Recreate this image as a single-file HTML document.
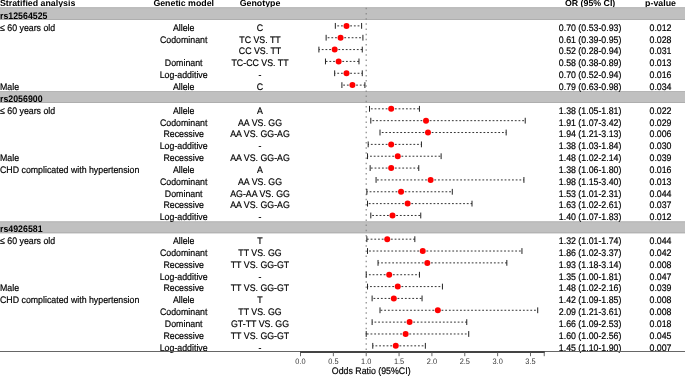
<!DOCTYPE html>
<html><head><meta charset="utf-8"><style>
html,body{margin:0;padding:0;background:#fff;}
body{width:685px;height:376px;overflow:hidden;}
svg{display:block;font-family:"Liberation Sans",sans-serif;will-change:transform;text-rendering:geometricPrecision;}
</style></head><body>
<svg width="685" height="376" viewBox="0 0 685 376">
<rect width="685" height="376" fill="#fff"/>
<text transform="translate(0.00,6.30) scale(1,1.0)" text-anchor="start" font-size="8.8" font-weight="bold" fill="#000">Stratified analysis</text>
<text transform="translate(183.70,6.30) scale(1,1.0)" text-anchor="middle" font-size="8.8" font-weight="bold" fill="#000">Genetic model</text>
<text transform="translate(260.00,6.30) scale(1,1.0)" text-anchor="middle" font-size="8.8" font-weight="bold" fill="#000">Genotype</text>
<text transform="translate(590.10,6.30) scale(1,1.0)" text-anchor="middle" font-size="8.8" font-weight="bold" fill="#000">OR (95% CI)</text>
<text transform="translate(660.50,6.30) scale(1,1.0)" text-anchor="middle" font-size="8.8" font-weight="bold" fill="#000">p-value</text>
<rect x="0" y="7.30" width="685" height="12.65" fill="#c0c0c0"/>
<rect x="0" y="7.30" width="685" height="0.9" fill="#b4b4b4"/>
<rect x="0" y="19.05" width="685" height="0.9" fill="#acacac"/>
<rect x="0" y="91.05" width="685" height="11.85" fill="#c0c0c0"/>
<rect x="0" y="91.05" width="685" height="0.9" fill="#b4b4b4"/>
<rect x="0" y="102.00" width="685" height="0.9" fill="#acacac"/>
<rect x="0" y="221.40" width="685" height="11.85" fill="#c0c0c0"/>
<rect x="0" y="221.40" width="685" height="0.9" fill="#b4b4b4"/>
<rect x="0" y="232.35" width="685" height="0.9" fill="#acacac"/>
<line x1="366.21" y1="7.87" x2="366.21" y2="351.75" stroke="#888" stroke-width="1.2" stroke-dasharray="1.5 3.66"/>
<text transform="translate(0.00,18.85) scale(1,1.08)" text-anchor="start" font-size="8.8" font-weight="bold" fill="#000">rs12564525</text>
<text transform="translate(0.00,30.70) scale(1,1.08)" text-anchor="start" font-size="8.8" fill="#000" stroke="#000" stroke-width="0.18">≤ 60 years old</text>
<text transform="translate(183.70,30.70) scale(1,1.08)" text-anchor="middle" font-size="8.8" fill="#000" stroke="#000" stroke-width="0.18">Allele</text>
<text transform="translate(260.00,30.70) scale(1,1.08)" text-anchor="middle" font-size="8.8" fill="#000" stroke="#000" stroke-width="0.18">C</text>
<text transform="translate(590.10,30.70) scale(1,1.08)" text-anchor="middle" font-size="8.8" fill="#000" stroke="#000" stroke-width="0.18">0.70 (0.53-0.93)</text>
<text transform="translate(660.50,30.70) scale(1,1.08)" text-anchor="middle" font-size="8.8" fill="#000" stroke="#000" stroke-width="0.18">0.012</text>
<line x1="346.50" y1="25.88" x2="335.33" y2="25.88" stroke="#333" stroke-width="1" stroke-dasharray="1.8 1.9"/>
<line x1="346.50" y1="25.88" x2="361.61" y2="25.88" stroke="#333" stroke-width="1" stroke-dasharray="1.8 1.9"/>
<line x1="335.33" y1="22.98" x2="335.33" y2="28.77" stroke="#222" stroke-width="1.0"/>
<line x1="361.61" y1="22.98" x2="361.61" y2="28.77" stroke="#222" stroke-width="1.0"/>
<circle cx="346.50" cy="25.88" r="3.0" fill="#ff0000"/>
<text transform="translate(183.70,42.55) scale(1,1.08)" text-anchor="middle" font-size="8.8" fill="#000" stroke="#000" stroke-width="0.18">Codominant</text>
<text transform="translate(260.00,42.55) scale(1,1.08)" text-anchor="middle" font-size="8.8" fill="#000" stroke="#000" stroke-width="0.18">TC VS. TT</text>
<text transform="translate(590.10,42.55) scale(1,1.08)" text-anchor="middle" font-size="8.8" fill="#000" stroke="#000" stroke-width="0.18">0.61 (0.39-0.95)</text>
<text transform="translate(660.50,42.55) scale(1,1.08)" text-anchor="middle" font-size="8.8" fill="#000" stroke="#000" stroke-width="0.18">0.028</text>
<line x1="340.58" y1="37.72" x2="326.13" y2="37.72" stroke="#333" stroke-width="1" stroke-dasharray="1.8 1.9"/>
<line x1="340.58" y1="37.72" x2="362.92" y2="37.72" stroke="#333" stroke-width="1" stroke-dasharray="1.8 1.9"/>
<line x1="326.13" y1="34.82" x2="326.13" y2="40.62" stroke="#222" stroke-width="1.0"/>
<line x1="362.92" y1="34.82" x2="362.92" y2="40.62" stroke="#222" stroke-width="1.0"/>
<circle cx="340.58" cy="37.72" r="3.0" fill="#ff0000"/>
<text transform="translate(260.00,54.40) scale(1,1.08)" text-anchor="middle" font-size="8.8" fill="#000" stroke="#000" stroke-width="0.18">CC VS. TT</text>
<text transform="translate(590.10,54.40) scale(1,1.08)" text-anchor="middle" font-size="8.8" fill="#000" stroke="#000" stroke-width="0.18">0.52 (0.28-0.94)</text>
<text transform="translate(660.50,54.40) scale(1,1.08)" text-anchor="middle" font-size="8.8" fill="#000" stroke="#000" stroke-width="0.18">0.031</text>
<line x1="334.67" y1="49.57" x2="318.90" y2="49.57" stroke="#333" stroke-width="1" stroke-dasharray="1.8 1.9"/>
<line x1="334.67" y1="49.57" x2="362.27" y2="49.57" stroke="#333" stroke-width="1" stroke-dasharray="1.8 1.9"/>
<line x1="318.90" y1="46.67" x2="318.90" y2="52.47" stroke="#222" stroke-width="1.0"/>
<line x1="362.27" y1="46.67" x2="362.27" y2="52.47" stroke="#222" stroke-width="1.0"/>
<circle cx="334.67" cy="49.57" r="3.0" fill="#ff0000"/>
<text transform="translate(183.70,66.25) scale(1,1.08)" text-anchor="middle" font-size="8.8" fill="#000" stroke="#000" stroke-width="0.18">Dominant</text>
<text transform="translate(260.00,66.25) scale(1,1.08)" text-anchor="middle" font-size="8.8" fill="#000" stroke="#000" stroke-width="0.18">TC-CC VS. TT</text>
<text transform="translate(590.10,66.25) scale(1,1.08)" text-anchor="middle" font-size="8.8" fill="#000" stroke="#000" stroke-width="0.18">0.58 (0.38-0.89)</text>
<text transform="translate(660.50,66.25) scale(1,1.08)" text-anchor="middle" font-size="8.8" fill="#000" stroke="#000" stroke-width="0.18">0.013</text>
<line x1="338.61" y1="61.42" x2="325.47" y2="61.42" stroke="#333" stroke-width="1" stroke-dasharray="1.8 1.9"/>
<line x1="338.61" y1="61.42" x2="358.98" y2="61.42" stroke="#333" stroke-width="1" stroke-dasharray="1.8 1.9"/>
<line x1="325.47" y1="58.52" x2="325.47" y2="64.33" stroke="#222" stroke-width="1.0"/>
<line x1="358.98" y1="58.52" x2="358.98" y2="64.33" stroke="#222" stroke-width="1.0"/>
<circle cx="338.61" cy="61.42" r="3.0" fill="#ff0000"/>
<text transform="translate(183.70,78.10) scale(1,1.08)" text-anchor="middle" font-size="8.8" fill="#000" stroke="#000" stroke-width="0.18">Log-additive</text>
<text transform="translate(260.00,78.10) scale(1,1.08)" text-anchor="middle" font-size="8.8" fill="#000" stroke="#000" stroke-width="0.18">-</text>
<text transform="translate(590.10,78.10) scale(1,1.08)" text-anchor="middle" font-size="8.8" fill="#000" stroke="#000" stroke-width="0.18">0.70 (0.52-0.94)</text>
<text transform="translate(660.50,78.10) scale(1,1.08)" text-anchor="middle" font-size="8.8" fill="#000" stroke="#000" stroke-width="0.18">0.016</text>
<line x1="346.50" y1="73.27" x2="334.67" y2="73.27" stroke="#333" stroke-width="1" stroke-dasharray="1.8 1.9"/>
<line x1="346.50" y1="73.27" x2="362.27" y2="73.27" stroke="#333" stroke-width="1" stroke-dasharray="1.8 1.9"/>
<line x1="334.67" y1="70.37" x2="334.67" y2="76.17" stroke="#222" stroke-width="1.0"/>
<line x1="362.27" y1="70.37" x2="362.27" y2="76.17" stroke="#222" stroke-width="1.0"/>
<circle cx="346.50" cy="73.27" r="3.0" fill="#ff0000"/>
<text transform="translate(0.00,89.95) scale(1,1.08)" text-anchor="start" font-size="8.8" fill="#000" stroke="#000" stroke-width="0.18">Male</text>
<text transform="translate(183.70,89.95) scale(1,1.08)" text-anchor="middle" font-size="8.8" fill="#000" stroke="#000" stroke-width="0.18">Allele</text>
<text transform="translate(260.00,89.95) scale(1,1.08)" text-anchor="middle" font-size="8.8" fill="#000" stroke="#000" stroke-width="0.18">C</text>
<text transform="translate(590.10,89.95) scale(1,1.08)" text-anchor="middle" font-size="8.8" fill="#000" stroke="#000" stroke-width="0.18">0.79 (0.63-0.98)</text>
<text transform="translate(660.50,89.95) scale(1,1.08)" text-anchor="middle" font-size="8.8" fill="#000" stroke="#000" stroke-width="0.18">0.034</text>
<line x1="352.41" y1="85.12" x2="341.90" y2="85.12" stroke="#333" stroke-width="1" stroke-dasharray="1.8 1.9"/>
<line x1="352.41" y1="85.12" x2="364.90" y2="85.12" stroke="#333" stroke-width="1" stroke-dasharray="1.8 1.9"/>
<line x1="341.90" y1="82.22" x2="341.90" y2="88.02" stroke="#222" stroke-width="1.0"/>
<line x1="364.90" y1="82.22" x2="364.90" y2="88.02" stroke="#222" stroke-width="1.0"/>
<circle cx="352.41" cy="85.12" r="3.0" fill="#ff0000"/>
<text transform="translate(0.00,101.80) scale(1,1.08)" text-anchor="start" font-size="8.8" font-weight="bold" fill="#000">rs2056900</text>
<text transform="translate(0.00,113.65) scale(1,1.08)" text-anchor="start" font-size="8.8" fill="#000" stroke="#000" stroke-width="0.18">≤ 60 years old</text>
<text transform="translate(183.70,113.65) scale(1,1.08)" text-anchor="middle" font-size="8.8" fill="#000" stroke="#000" stroke-width="0.18">Allele</text>
<text transform="translate(260.00,113.65) scale(1,1.08)" text-anchor="middle" font-size="8.8" fill="#000" stroke="#000" stroke-width="0.18">A</text>
<text transform="translate(590.10,113.65) scale(1,1.08)" text-anchor="middle" font-size="8.8" fill="#000" stroke="#000" stroke-width="0.18">1.38 (1.05-1.81)</text>
<text transform="translate(660.50,113.65) scale(1,1.08)" text-anchor="middle" font-size="8.8" fill="#000" stroke="#000" stroke-width="0.18">0.022</text>
<line x1="391.18" y1="108.82" x2="369.50" y2="108.82" stroke="#333" stroke-width="1" stroke-dasharray="1.8 1.9"/>
<line x1="391.18" y1="108.82" x2="419.44" y2="108.82" stroke="#333" stroke-width="1" stroke-dasharray="1.8 1.9"/>
<line x1="369.50" y1="105.92" x2="369.50" y2="111.72" stroke="#222" stroke-width="1.0"/>
<line x1="419.44" y1="105.92" x2="419.44" y2="111.72" stroke="#222" stroke-width="1.0"/>
<circle cx="391.18" cy="108.82" r="3.0" fill="#ff0000"/>
<text transform="translate(183.70,125.50) scale(1,1.08)" text-anchor="middle" font-size="8.8" fill="#000" stroke="#000" stroke-width="0.18">Codominant</text>
<text transform="translate(260.00,125.50) scale(1,1.08)" text-anchor="middle" font-size="8.8" fill="#000" stroke="#000" stroke-width="0.18">AA VS. GG</text>
<text transform="translate(590.10,125.50) scale(1,1.08)" text-anchor="middle" font-size="8.8" fill="#000" stroke="#000" stroke-width="0.18">1.91 (1.07-3.42)</text>
<text transform="translate(660.50,125.50) scale(1,1.08)" text-anchor="middle" font-size="8.8" fill="#000" stroke="#000" stroke-width="0.18">0.029</text>
<line x1="426.01" y1="120.67" x2="370.81" y2="120.67" stroke="#333" stroke-width="1" stroke-dasharray="1.8 1.9"/>
<line x1="426.01" y1="120.67" x2="525.23" y2="120.67" stroke="#333" stroke-width="1" stroke-dasharray="1.8 1.9"/>
<line x1="370.81" y1="117.77" x2="370.81" y2="123.57" stroke="#222" stroke-width="1.0"/>
<line x1="525.23" y1="117.77" x2="525.23" y2="123.57" stroke="#222" stroke-width="1.0"/>
<circle cx="426.01" cy="120.67" r="3.0" fill="#ff0000"/>
<text transform="translate(183.70,137.35) scale(1,1.08)" text-anchor="middle" font-size="8.8" fill="#000" stroke="#000" stroke-width="0.18">Recessive</text>
<text transform="translate(260.00,137.35) scale(1,1.08)" text-anchor="middle" font-size="8.8" fill="#000" stroke="#000" stroke-width="0.18">AA VS. GG-AG</text>
<text transform="translate(590.10,137.35) scale(1,1.08)" text-anchor="middle" font-size="8.8" fill="#000" stroke="#000" stroke-width="0.18">1.94 (1.21-3.13)</text>
<text transform="translate(660.50,137.35) scale(1,1.08)" text-anchor="middle" font-size="8.8" fill="#000" stroke="#000" stroke-width="0.18">0.006</text>
<line x1="427.98" y1="132.53" x2="380.01" y2="132.53" stroke="#333" stroke-width="1" stroke-dasharray="1.8 1.9"/>
<line x1="427.98" y1="132.53" x2="506.17" y2="132.53" stroke="#333" stroke-width="1" stroke-dasharray="1.8 1.9"/>
<line x1="380.01" y1="129.62" x2="380.01" y2="135.43" stroke="#222" stroke-width="1.0"/>
<line x1="506.17" y1="129.62" x2="506.17" y2="135.43" stroke="#222" stroke-width="1.0"/>
<circle cx="427.98" cy="132.53" r="3.0" fill="#ff0000"/>
<text transform="translate(183.70,149.20) scale(1,1.08)" text-anchor="middle" font-size="8.8" fill="#000" stroke="#000" stroke-width="0.18">Log-additive</text>
<text transform="translate(260.00,149.20) scale(1,1.08)" text-anchor="middle" font-size="8.8" fill="#000" stroke="#000" stroke-width="0.18">-</text>
<text transform="translate(590.10,149.20) scale(1,1.08)" text-anchor="middle" font-size="8.8" fill="#000" stroke="#000" stroke-width="0.18">1.38 (1.03-1.84)</text>
<text transform="translate(660.50,149.20) scale(1,1.08)" text-anchor="middle" font-size="8.8" fill="#000" stroke="#000" stroke-width="0.18">0.030</text>
<line x1="391.18" y1="144.38" x2="368.18" y2="144.38" stroke="#333" stroke-width="1" stroke-dasharray="1.8 1.9"/>
<line x1="391.18" y1="144.38" x2="421.41" y2="144.38" stroke="#333" stroke-width="1" stroke-dasharray="1.8 1.9"/>
<line x1="368.18" y1="141.47" x2="368.18" y2="147.28" stroke="#222" stroke-width="1.0"/>
<line x1="421.41" y1="141.47" x2="421.41" y2="147.28" stroke="#222" stroke-width="1.0"/>
<circle cx="391.18" cy="144.38" r="3.0" fill="#ff0000"/>
<text transform="translate(0.00,161.05) scale(1,1.08)" text-anchor="start" font-size="8.8" fill="#000" stroke="#000" stroke-width="0.18">Male</text>
<text transform="translate(183.70,161.05) scale(1,1.08)" text-anchor="middle" font-size="8.8" fill="#000" stroke="#000" stroke-width="0.18">Recessive</text>
<text transform="translate(260.00,161.05) scale(1,1.08)" text-anchor="middle" font-size="8.8" fill="#000" stroke="#000" stroke-width="0.18">AA VS. GG-AG</text>
<text transform="translate(590.10,161.05) scale(1,1.08)" text-anchor="middle" font-size="8.8" fill="#000" stroke="#000" stroke-width="0.18">1.48 (1.02-2.14)</text>
<text transform="translate(660.50,161.05) scale(1,1.08)" text-anchor="middle" font-size="8.8" fill="#000" stroke="#000" stroke-width="0.18">0.039</text>
<line x1="397.75" y1="156.22" x2="367.52" y2="156.22" stroke="#333" stroke-width="1" stroke-dasharray="1.8 1.9"/>
<line x1="397.75" y1="156.22" x2="441.12" y2="156.22" stroke="#333" stroke-width="1" stroke-dasharray="1.8 1.9"/>
<line x1="367.52" y1="153.32" x2="367.52" y2="159.12" stroke="#222" stroke-width="1.0"/>
<line x1="441.12" y1="153.32" x2="441.12" y2="159.12" stroke="#222" stroke-width="1.0"/>
<circle cx="397.75" cy="156.22" r="3.0" fill="#ff0000"/>
<text transform="translate(0.00,172.90) scale(1,1.08)" text-anchor="start" font-size="8.8" fill="#000" stroke="#000" stroke-width="0.18">CHD complicated with hypertension</text>
<text transform="translate(183.70,172.90) scale(1,1.08)" text-anchor="middle" font-size="8.8" fill="#000" stroke="#000" stroke-width="0.18">Allele</text>
<text transform="translate(260.00,172.90) scale(1,1.08)" text-anchor="middle" font-size="8.8" fill="#000" stroke="#000" stroke-width="0.18">A</text>
<text transform="translate(590.10,172.90) scale(1,1.08)" text-anchor="middle" font-size="8.8" fill="#000" stroke="#000" stroke-width="0.18">1.38 (1.06-1.80)</text>
<text transform="translate(660.50,172.90) scale(1,1.08)" text-anchor="middle" font-size="8.8" fill="#000" stroke="#000" stroke-width="0.18">0.016</text>
<line x1="391.18" y1="168.07" x2="370.15" y2="168.07" stroke="#333" stroke-width="1" stroke-dasharray="1.8 1.9"/>
<line x1="391.18" y1="168.07" x2="418.78" y2="168.07" stroke="#333" stroke-width="1" stroke-dasharray="1.8 1.9"/>
<line x1="370.15" y1="165.17" x2="370.15" y2="170.97" stroke="#222" stroke-width="1.0"/>
<line x1="418.78" y1="165.17" x2="418.78" y2="170.97" stroke="#222" stroke-width="1.0"/>
<circle cx="391.18" cy="168.07" r="3.0" fill="#ff0000"/>
<text transform="translate(183.70,184.75) scale(1,1.08)" text-anchor="middle" font-size="8.8" fill="#000" stroke="#000" stroke-width="0.18">Codominant</text>
<text transform="translate(260.00,184.75) scale(1,1.08)" text-anchor="middle" font-size="8.8" fill="#000" stroke="#000" stroke-width="0.18">AA VS. GG</text>
<text transform="translate(590.10,184.75) scale(1,1.08)" text-anchor="middle" font-size="8.8" fill="#000" stroke="#000" stroke-width="0.18">1.98 (1.15-3.40)</text>
<text transform="translate(660.50,184.75) scale(1,1.08)" text-anchor="middle" font-size="8.8" fill="#000" stroke="#000" stroke-width="0.18">0.013</text>
<line x1="430.61" y1="179.93" x2="376.07" y2="179.93" stroke="#333" stroke-width="1" stroke-dasharray="1.8 1.9"/>
<line x1="430.61" y1="179.93" x2="523.91" y2="179.93" stroke="#333" stroke-width="1" stroke-dasharray="1.8 1.9"/>
<line x1="376.07" y1="177.03" x2="376.07" y2="182.83" stroke="#222" stroke-width="1.0"/>
<line x1="523.91" y1="177.03" x2="523.91" y2="182.83" stroke="#222" stroke-width="1.0"/>
<circle cx="430.61" cy="179.93" r="3.0" fill="#ff0000"/>
<text transform="translate(183.70,196.60) scale(1,1.08)" text-anchor="middle" font-size="8.8" fill="#000" stroke="#000" stroke-width="0.18">Dominant</text>
<text transform="translate(260.00,196.60) scale(1,1.08)" text-anchor="middle" font-size="8.8" fill="#000" stroke="#000" stroke-width="0.18">AG-AA VS. GG</text>
<text transform="translate(590.10,196.60) scale(1,1.08)" text-anchor="middle" font-size="8.8" fill="#000" stroke="#000" stroke-width="0.18">1.53 (1.01-2.31)</text>
<text transform="translate(660.50,196.60) scale(1,1.08)" text-anchor="middle" font-size="8.8" fill="#000" stroke="#000" stroke-width="0.18">0.044</text>
<line x1="401.04" y1="191.78" x2="366.87" y2="191.78" stroke="#333" stroke-width="1" stroke-dasharray="1.8 1.9"/>
<line x1="401.04" y1="191.78" x2="452.29" y2="191.78" stroke="#333" stroke-width="1" stroke-dasharray="1.8 1.9"/>
<line x1="366.87" y1="188.88" x2="366.87" y2="194.68" stroke="#222" stroke-width="1.0"/>
<line x1="452.29" y1="188.88" x2="452.29" y2="194.68" stroke="#222" stroke-width="1.0"/>
<circle cx="401.04" cy="191.78" r="3.0" fill="#ff0000"/>
<text transform="translate(183.70,208.45) scale(1,1.08)" text-anchor="middle" font-size="8.8" fill="#000" stroke="#000" stroke-width="0.18">Recessive</text>
<text transform="translate(260.00,208.45) scale(1,1.08)" text-anchor="middle" font-size="8.8" fill="#000" stroke="#000" stroke-width="0.18">AA VS. GG-AG</text>
<text transform="translate(590.10,208.45) scale(1,1.08)" text-anchor="middle" font-size="8.8" fill="#000" stroke="#000" stroke-width="0.18">1.63 (1.02-2.61)</text>
<text transform="translate(660.50,208.45) scale(1,1.08)" text-anchor="middle" font-size="8.8" fill="#000" stroke="#000" stroke-width="0.18">0.037</text>
<line x1="407.61" y1="203.62" x2="367.52" y2="203.62" stroke="#333" stroke-width="1" stroke-dasharray="1.8 1.9"/>
<line x1="407.61" y1="203.62" x2="472.00" y2="203.62" stroke="#333" stroke-width="1" stroke-dasharray="1.8 1.9"/>
<line x1="367.52" y1="200.72" x2="367.52" y2="206.53" stroke="#222" stroke-width="1.0"/>
<line x1="472.00" y1="200.72" x2="472.00" y2="206.53" stroke="#222" stroke-width="1.0"/>
<circle cx="407.61" cy="203.62" r="3.0" fill="#ff0000"/>
<text transform="translate(183.70,220.30) scale(1,1.08)" text-anchor="middle" font-size="8.8" fill="#000" stroke="#000" stroke-width="0.18">Log-additive</text>
<text transform="translate(260.00,220.30) scale(1,1.08)" text-anchor="middle" font-size="8.8" fill="#000" stroke="#000" stroke-width="0.18">-</text>
<text transform="translate(590.10,220.30) scale(1,1.08)" text-anchor="middle" font-size="8.8" fill="#000" stroke="#000" stroke-width="0.18">1.40 (1.07-1.83)</text>
<text transform="translate(660.50,220.30) scale(1,1.08)" text-anchor="middle" font-size="8.8" fill="#000" stroke="#000" stroke-width="0.18">0.012</text>
<line x1="392.49" y1="215.47" x2="370.81" y2="215.47" stroke="#333" stroke-width="1" stroke-dasharray="1.8 1.9"/>
<line x1="392.49" y1="215.47" x2="420.75" y2="215.47" stroke="#333" stroke-width="1" stroke-dasharray="1.8 1.9"/>
<line x1="370.81" y1="212.57" x2="370.81" y2="218.38" stroke="#222" stroke-width="1.0"/>
<line x1="420.75" y1="212.57" x2="420.75" y2="218.38" stroke="#222" stroke-width="1.0"/>
<circle cx="392.49" cy="215.47" r="3.0" fill="#ff0000"/>
<text transform="translate(0.00,232.15) scale(1,1.08)" text-anchor="start" font-size="8.8" font-weight="bold" fill="#000">rs4926581</text>
<text transform="translate(0.00,244.00) scale(1,1.08)" text-anchor="start" font-size="8.8" fill="#000" stroke="#000" stroke-width="0.18">≤ 60 years old</text>
<text transform="translate(183.70,244.00) scale(1,1.08)" text-anchor="middle" font-size="8.8" fill="#000" stroke="#000" stroke-width="0.18">Allele</text>
<text transform="translate(260.00,244.00) scale(1,1.08)" text-anchor="middle" font-size="8.8" fill="#000" stroke="#000" stroke-width="0.18">T</text>
<text transform="translate(590.10,244.00) scale(1,1.08)" text-anchor="middle" font-size="8.8" fill="#000" stroke="#000" stroke-width="0.18">1.32 (1.01-1.74)</text>
<text transform="translate(660.50,244.00) scale(1,1.08)" text-anchor="middle" font-size="8.8" fill="#000" stroke="#000" stroke-width="0.18">0.044</text>
<line x1="387.24" y1="239.18" x2="366.87" y2="239.18" stroke="#333" stroke-width="1" stroke-dasharray="1.8 1.9"/>
<line x1="387.24" y1="239.18" x2="414.84" y2="239.18" stroke="#333" stroke-width="1" stroke-dasharray="1.8 1.9"/>
<line x1="366.87" y1="236.28" x2="366.87" y2="242.08" stroke="#222" stroke-width="1.0"/>
<line x1="414.84" y1="236.28" x2="414.84" y2="242.08" stroke="#222" stroke-width="1.0"/>
<circle cx="387.24" cy="239.18" r="3.0" fill="#ff0000"/>
<text transform="translate(183.70,255.85) scale(1,1.08)" text-anchor="middle" font-size="8.8" fill="#000" stroke="#000" stroke-width="0.18">Codominant</text>
<text transform="translate(260.00,255.85) scale(1,1.08)" text-anchor="middle" font-size="8.8" fill="#000" stroke="#000" stroke-width="0.18">TT VS. GG</text>
<text transform="translate(590.10,255.85) scale(1,1.08)" text-anchor="middle" font-size="8.8" fill="#000" stroke="#000" stroke-width="0.18">1.86 (1.02-3.37)</text>
<text transform="translate(660.50,255.85) scale(1,1.08)" text-anchor="middle" font-size="8.8" fill="#000" stroke="#000" stroke-width="0.18">0.042</text>
<line x1="422.72" y1="251.03" x2="367.52" y2="251.03" stroke="#333" stroke-width="1" stroke-dasharray="1.8 1.9"/>
<line x1="422.72" y1="251.03" x2="521.94" y2="251.03" stroke="#333" stroke-width="1" stroke-dasharray="1.8 1.9"/>
<line x1="367.52" y1="248.12" x2="367.52" y2="253.93" stroke="#222" stroke-width="1.0"/>
<line x1="521.94" y1="248.12" x2="521.94" y2="253.93" stroke="#222" stroke-width="1.0"/>
<circle cx="422.72" cy="251.03" r="3.0" fill="#ff0000"/>
<text transform="translate(183.70,267.70) scale(1,1.08)" text-anchor="middle" font-size="8.8" fill="#000" stroke="#000" stroke-width="0.18">Recessive</text>
<text transform="translate(260.00,267.70) scale(1,1.08)" text-anchor="middle" font-size="8.8" fill="#000" stroke="#000" stroke-width="0.18">TT VS. GG-GT</text>
<text transform="translate(590.10,267.70) scale(1,1.08)" text-anchor="middle" font-size="8.8" fill="#000" stroke="#000" stroke-width="0.18">1.93 (1.18-3.14)</text>
<text transform="translate(660.50,267.70) scale(1,1.08)" text-anchor="middle" font-size="8.8" fill="#000" stroke="#000" stroke-width="0.18">0.008</text>
<line x1="427.32" y1="262.88" x2="378.04" y2="262.88" stroke="#333" stroke-width="1" stroke-dasharray="1.8 1.9"/>
<line x1="427.32" y1="262.88" x2="506.83" y2="262.88" stroke="#333" stroke-width="1" stroke-dasharray="1.8 1.9"/>
<line x1="378.04" y1="259.98" x2="378.04" y2="265.77" stroke="#222" stroke-width="1.0"/>
<line x1="506.83" y1="259.98" x2="506.83" y2="265.77" stroke="#222" stroke-width="1.0"/>
<circle cx="427.32" cy="262.88" r="3.0" fill="#ff0000"/>
<text transform="translate(183.70,279.55) scale(1,1.08)" text-anchor="middle" font-size="8.8" fill="#000" stroke="#000" stroke-width="0.18">Log-additive</text>
<text transform="translate(260.00,279.55) scale(1,1.08)" text-anchor="middle" font-size="8.8" fill="#000" stroke="#000" stroke-width="0.18">-</text>
<text transform="translate(590.10,279.55) scale(1,1.08)" text-anchor="middle" font-size="8.8" fill="#000" stroke="#000" stroke-width="0.18">1.35 (1.00-1.81)</text>
<text transform="translate(660.50,279.55) scale(1,1.08)" text-anchor="middle" font-size="8.8" fill="#000" stroke="#000" stroke-width="0.18">0.047</text>
<line x1="389.21" y1="274.73" x2="366.21" y2="274.73" stroke="#333" stroke-width="1" stroke-dasharray="1.8 1.9"/>
<line x1="389.21" y1="274.73" x2="419.44" y2="274.73" stroke="#333" stroke-width="1" stroke-dasharray="1.8 1.9"/>
<line x1="366.21" y1="271.83" x2="366.21" y2="277.62" stroke="#222" stroke-width="1.0"/>
<line x1="419.44" y1="271.83" x2="419.44" y2="277.62" stroke="#222" stroke-width="1.0"/>
<circle cx="389.21" cy="274.73" r="3.0" fill="#ff0000"/>
<text transform="translate(0.00,291.40) scale(1,1.08)" text-anchor="start" font-size="8.8" fill="#000" stroke="#000" stroke-width="0.18">Male</text>
<text transform="translate(183.70,291.40) scale(1,1.08)" text-anchor="middle" font-size="8.8" fill="#000" stroke="#000" stroke-width="0.18">Recessive</text>
<text transform="translate(260.00,291.40) scale(1,1.08)" text-anchor="middle" font-size="8.8" fill="#000" stroke="#000" stroke-width="0.18">TT VS. GG-GT</text>
<text transform="translate(590.10,291.40) scale(1,1.08)" text-anchor="middle" font-size="8.8" fill="#000" stroke="#000" stroke-width="0.18">1.48 (1.02-2.16)</text>
<text transform="translate(660.50,291.40) scale(1,1.08)" text-anchor="middle" font-size="8.8" fill="#000" stroke="#000" stroke-width="0.18">0.039</text>
<line x1="397.75" y1="286.58" x2="367.52" y2="286.58" stroke="#333" stroke-width="1" stroke-dasharray="1.8 1.9"/>
<line x1="397.75" y1="286.58" x2="442.43" y2="286.58" stroke="#333" stroke-width="1" stroke-dasharray="1.8 1.9"/>
<line x1="367.52" y1="283.68" x2="367.52" y2="289.48" stroke="#222" stroke-width="1.0"/>
<line x1="442.43" y1="283.68" x2="442.43" y2="289.48" stroke="#222" stroke-width="1.0"/>
<circle cx="397.75" cy="286.58" r="3.0" fill="#ff0000"/>
<text transform="translate(0.00,303.25) scale(1,1.08)" text-anchor="start" font-size="8.8" fill="#000" stroke="#000" stroke-width="0.18">CHD complicated with hypertension</text>
<text transform="translate(183.70,303.25) scale(1,1.08)" text-anchor="middle" font-size="8.8" fill="#000" stroke="#000" stroke-width="0.18">Allele</text>
<text transform="translate(260.00,303.25) scale(1,1.08)" text-anchor="middle" font-size="8.8" fill="#000" stroke="#000" stroke-width="0.18">T</text>
<text transform="translate(590.10,303.25) scale(1,1.08)" text-anchor="middle" font-size="8.8" fill="#000" stroke="#000" stroke-width="0.18">1.42 (1.09-1.85)</text>
<text transform="translate(660.50,303.25) scale(1,1.08)" text-anchor="middle" font-size="8.8" fill="#000" stroke="#000" stroke-width="0.18">0.008</text>
<line x1="393.81" y1="298.43" x2="372.12" y2="298.43" stroke="#333" stroke-width="1" stroke-dasharray="1.8 1.9"/>
<line x1="393.81" y1="298.43" x2="422.06" y2="298.43" stroke="#333" stroke-width="1" stroke-dasharray="1.8 1.9"/>
<line x1="372.12" y1="295.53" x2="372.12" y2="301.32" stroke="#222" stroke-width="1.0"/>
<line x1="422.06" y1="295.53" x2="422.06" y2="301.32" stroke="#222" stroke-width="1.0"/>
<circle cx="393.81" cy="298.43" r="3.0" fill="#ff0000"/>
<text transform="translate(183.70,315.10) scale(1,1.08)" text-anchor="middle" font-size="8.8" fill="#000" stroke="#000" stroke-width="0.18">Codominant</text>
<text transform="translate(260.00,315.10) scale(1,1.08)" text-anchor="middle" font-size="8.8" fill="#000" stroke="#000" stroke-width="0.18">TT VS. GG</text>
<text transform="translate(590.10,315.10) scale(1,1.08)" text-anchor="middle" font-size="8.8" fill="#000" stroke="#000" stroke-width="0.18">2.09 (1.21-3.61)</text>
<text transform="translate(660.50,315.10) scale(1,1.08)" text-anchor="middle" font-size="8.8" fill="#000" stroke="#000" stroke-width="0.18">0.008</text>
<line x1="437.83" y1="310.28" x2="380.01" y2="310.28" stroke="#333" stroke-width="1" stroke-dasharray="1.8 1.9"/>
<line x1="437.83" y1="310.28" x2="537.71" y2="310.28" stroke="#333" stroke-width="1" stroke-dasharray="1.8 1.9"/>
<line x1="380.01" y1="307.38" x2="380.01" y2="313.18" stroke="#222" stroke-width="1.0"/>
<line x1="537.71" y1="307.38" x2="537.71" y2="313.18" stroke="#222" stroke-width="1.0"/>
<circle cx="437.83" cy="310.28" r="3.0" fill="#ff0000"/>
<text transform="translate(183.70,326.95) scale(1,1.08)" text-anchor="middle" font-size="8.8" fill="#000" stroke="#000" stroke-width="0.18">Dominant</text>
<text transform="translate(260.00,326.95) scale(1,1.08)" text-anchor="middle" font-size="8.8" fill="#000" stroke="#000" stroke-width="0.18">GT-TT VS. GG</text>
<text transform="translate(590.10,326.95) scale(1,1.08)" text-anchor="middle" font-size="8.8" fill="#000" stroke="#000" stroke-width="0.18">1.66 (1.09-2.53)</text>
<text transform="translate(660.50,326.95) scale(1,1.08)" text-anchor="middle" font-size="8.8" fill="#000" stroke="#000" stroke-width="0.18">0.018</text>
<line x1="409.58" y1="322.12" x2="372.12" y2="322.12" stroke="#333" stroke-width="1" stroke-dasharray="1.8 1.9"/>
<line x1="409.58" y1="322.12" x2="466.75" y2="322.12" stroke="#333" stroke-width="1" stroke-dasharray="1.8 1.9"/>
<line x1="372.12" y1="319.23" x2="372.12" y2="325.02" stroke="#222" stroke-width="1.0"/>
<line x1="466.75" y1="319.23" x2="466.75" y2="325.02" stroke="#222" stroke-width="1.0"/>
<circle cx="409.58" cy="322.12" r="3.0" fill="#ff0000"/>
<text transform="translate(183.70,338.80) scale(1,1.08)" text-anchor="middle" font-size="8.8" fill="#000" stroke="#000" stroke-width="0.18">Recessive</text>
<text transform="translate(260.00,338.80) scale(1,1.08)" text-anchor="middle" font-size="8.8" fill="#000" stroke="#000" stroke-width="0.18">TT VS. GG-GT</text>
<text transform="translate(590.10,338.80) scale(1,1.08)" text-anchor="middle" font-size="8.8" fill="#000" stroke="#000" stroke-width="0.18">1.60 (1.00-2.56)</text>
<text transform="translate(660.50,338.80) scale(1,1.08)" text-anchor="middle" font-size="8.8" fill="#000" stroke="#000" stroke-width="0.18">0.045</text>
<line x1="405.64" y1="333.98" x2="366.21" y2="333.98" stroke="#333" stroke-width="1" stroke-dasharray="1.8 1.9"/>
<line x1="405.64" y1="333.98" x2="468.72" y2="333.98" stroke="#333" stroke-width="1" stroke-dasharray="1.8 1.9"/>
<line x1="366.21" y1="331.08" x2="366.21" y2="336.88" stroke="#222" stroke-width="1.0"/>
<line x1="468.72" y1="331.08" x2="468.72" y2="336.88" stroke="#222" stroke-width="1.0"/>
<circle cx="405.64" cy="333.98" r="3.0" fill="#ff0000"/>
<text transform="translate(183.70,350.65) scale(1,1.08)" text-anchor="middle" font-size="8.8" fill="#000" stroke="#000" stroke-width="0.18">Log-additive</text>
<text transform="translate(260.00,350.65) scale(1,1.08)" text-anchor="middle" font-size="8.8" fill="#000" stroke="#000" stroke-width="0.18">-</text>
<text transform="translate(590.10,350.65) scale(1,1.08)" text-anchor="middle" font-size="8.8" fill="#000" stroke="#000" stroke-width="0.18">1.45 (1.10-1.90)</text>
<text transform="translate(660.50,350.65) scale(1,1.08)" text-anchor="middle" font-size="8.8" fill="#000" stroke="#000" stroke-width="0.18">0.007</text>
<line x1="395.78" y1="345.83" x2="372.78" y2="345.83" stroke="#333" stroke-width="1" stroke-dasharray="1.8 1.9"/>
<line x1="395.78" y1="345.83" x2="425.35" y2="345.83" stroke="#333" stroke-width="1" stroke-dasharray="1.8 1.9"/>
<line x1="372.78" y1="342.93" x2="372.78" y2="348.73" stroke="#222" stroke-width="1.0"/>
<line x1="425.35" y1="342.93" x2="425.35" y2="348.73" stroke="#222" stroke-width="1.0"/>
<circle cx="395.78" cy="345.83" r="3.0" fill="#ff0000"/>
<line x1="0" y1="351.5" x2="685" y2="351.5" stroke="#666" stroke-width="1.1"/>
<line x1="300.00" y1="352.0" x2="544.72" y2="352.0" stroke="#444" stroke-width="1.8"/>
<line x1="300.50" y1="352" x2="300.50" y2="356.2" stroke="#555" stroke-width="0.9"/>
<text transform="translate(300.50,363.70) scale(1,1.08)" text-anchor="middle" font-size="7.4" fill="#333">0.0</text>
<line x1="333.36" y1="352" x2="333.36" y2="356.2" stroke="#555" stroke-width="0.9"/>
<text transform="translate(333.36,363.70) scale(1,1.08)" text-anchor="middle" font-size="7.4" fill="#333">0.5</text>
<line x1="366.21" y1="352" x2="366.21" y2="356.2" stroke="#555" stroke-width="0.9"/>
<text transform="translate(366.21,363.70) scale(1,1.08)" text-anchor="middle" font-size="7.4" fill="#333">1.0</text>
<line x1="399.06" y1="352" x2="399.06" y2="356.2" stroke="#555" stroke-width="0.9"/>
<text transform="translate(399.06,363.70) scale(1,1.08)" text-anchor="middle" font-size="7.4" fill="#333">1.5</text>
<line x1="431.92" y1="352" x2="431.92" y2="356.2" stroke="#555" stroke-width="0.9"/>
<text transform="translate(431.92,363.70) scale(1,1.08)" text-anchor="middle" font-size="7.4" fill="#333">2.0</text>
<line x1="464.77" y1="352" x2="464.77" y2="356.2" stroke="#555" stroke-width="0.9"/>
<text transform="translate(464.77,363.70) scale(1,1.08)" text-anchor="middle" font-size="7.4" fill="#333">2.5</text>
<line x1="497.63" y1="352" x2="497.63" y2="356.2" stroke="#555" stroke-width="0.9"/>
<text transform="translate(497.63,363.70) scale(1,1.08)" text-anchor="middle" font-size="7.4" fill="#333">3.0</text>
<line x1="530.49" y1="352" x2="530.49" y2="356.2" stroke="#555" stroke-width="0.9"/>
<text transform="translate(530.49,363.70) scale(1,1.08)" text-anchor="middle" font-size="7.4" fill="#333">3.5</text>
<line x1="544.22" y1="352" x2="544.22" y2="356.2" stroke="#555" stroke-width="0.9"/>
<text transform="translate(371.21,373.90) scale(1,1.08)" text-anchor="middle" font-size="8.8" fill="#000" stroke="#000" stroke-width="0.18">Odds Ratio (95%CI)</text>
</svg>
</body></html>
